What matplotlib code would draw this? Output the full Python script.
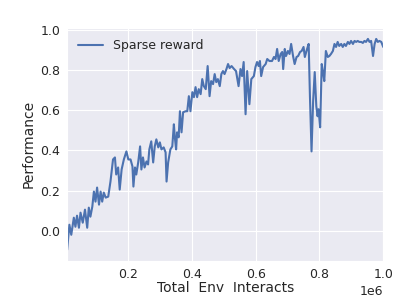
import matplotlib
matplotlib.use("Agg")
import matplotlib.pyplot as plt
import seaborn as sns
import numpy as np

# env interacts (in millions) and performance
steps = [
    0.008, 0.015, 0.021, 0.029, 0.034, 0.039, 0.045, 0.050, 0.057, 0.064,
    0.071, 0.076, 0.081, 0.087, 0.092, 0.097, 0.102, 0.108, 0.113, 0.118,
    0.123, 0.129, 0.137, 0.144, 0.152, 0.158, 0.162, 0.168, 0.173, 0.179,
    0.186, 0.194, 0.200, 0.207, 0.213, 0.216, 0.221, 0.225, 0.231, 0.237,
    0.241, 0.246, 0.251, 0.257, 0.262, 0.266, 0.272, 0.278, 0.283, 0.288,
    0.294, 0.299, 0.304, 0.311, 0.317, 0.320, 0.325, 0.332, 0.338, 0.343,
    0.346, 0.350, 0.353, 0.358, 0.362, 0.367, 0.372, 0.380, 0.385, 0.390,
    0.395, 0.401, 0.406, 0.411, 0.416, 0.421, 0.427, 0.432, 0.437, 0.443,
    0.449, 0.455, 0.460, 0.466, 0.471, 0.476, 0.481, 0.487, 0.492, 0.497,
    0.502, 0.508, 0.513, 0.518, 0.524, 0.532, 0.538, 0.546, 0.552, 0.557,
    0.562, 0.568, 0.573, 0.580, 0.586, 0.594, 0.599, 0.604, 0.609, 0.613,
    0.617, 0.623, 0.631, 0.636, 0.643, 0.651, 0.657, 0.662, 0.667, 0.672,
    0.678, 0.683, 0.686, 0.691, 0.695, 0.701, 0.706, 0.711, 0.717, 0.722,
    0.728, 0.733, 0.739, 0.744, 0.750, 0.754, 0.761, 0.766, 0.770, 0.775,
    0.780, 0.785, 0.790, 0.794, 0.797, 0.802, 0.807, 0.811, 0.815, 0.820,
    0.826, 0.831, 0.836, 0.842, 0.847, 0.852, 0.857, 0.862, 0.868, 0.873,
    0.878, 0.883, 0.889, 0.894, 0.899, 0.905, 0.910, 0.915, 0.920, 0.925,
    0.931, 0.936, 0.941, 0.946, 0.952, 0.957, 0.962, 0.968, 0.973, 0.978,
    0.983, 0.988, 0.994, 1.000,
]
performance = [
    -0.095, 0.030, -0.020, 0.065, 0.020, 0.075, 0.015, 0.090, 0.040, 0.105,
    0.015, 0.115, 0.070, 0.120, 0.195, 0.145, 0.215, 0.130, 0.195, 0.145,
    0.190, 0.165, 0.170, 0.245, 0.355, 0.365, 0.280, 0.315, 0.205, 0.305,
    0.355, 0.395, 0.355, 0.355, 0.320, 0.220, 0.315, 0.280, 0.340, 0.420,
    0.305, 0.365, 0.315, 0.345, 0.330, 0.405, 0.445, 0.340, 0.420, 0.455,
    0.415, 0.440, 0.405, 0.415, 0.390, 0.245, 0.340, 0.405, 0.420, 0.530,
    0.465, 0.405, 0.490, 0.465, 0.595, 0.490, 0.590, 0.595, 0.595, 0.670,
    0.595, 0.690, 0.665, 0.715, 0.665, 0.705, 0.680, 0.755, 0.720, 0.705,
    0.820, 0.670, 0.745, 0.730, 0.780, 0.740, 0.755, 0.720, 0.780, 0.795,
    0.780, 0.805, 0.830, 0.810, 0.820, 0.805, 0.795, 0.720, 0.805, 0.770,
    0.840, 0.580, 0.795, 0.630, 0.755, 0.770, 0.815, 0.840, 0.820, 0.845,
    0.770, 0.815, 0.830, 0.855, 0.845, 0.845, 0.865, 0.855, 0.905, 0.845,
    0.880, 0.890, 0.805, 0.905, 0.870, 0.895, 0.880, 0.930, 0.870, 0.830,
    0.865, 0.870, 0.890, 0.895, 0.915, 0.865, 0.905, 0.930, 0.670, 0.395,
    0.645, 0.790, 0.620, 0.570, 0.605, 0.515, 0.830, 0.790, 0.745, 0.895,
    0.865, 0.870, 0.880, 0.895, 0.930, 0.915, 0.940, 0.920, 0.930, 0.915,
    0.930, 0.920, 0.940, 0.930, 0.945, 0.930, 0.945, 0.940, 0.945, 0.940,
    0.940, 0.935, 0.945, 0.940, 0.955, 0.940, 0.945, 0.870, 0.930, 0.955,
    0.940, 0.945, 0.940, 0.915,
]

sns.set_style("darkgrid")
plt.rcParams['font.family'] = ['DejaVu Sans']

x = np.array(steps) * 1e6
y = np.array(performance)

fig = plt.figure(figsize=(4.17, 3.03), dpi=100)
ax = fig.add_axes([0.161, 0.139, 0.758, 0.769])
ax.plot(x, y, color='#4C72B0', lw=1.5, label='Sparse reward')

ax.set_xlim(x[0], x[-1])
ax.set_ylim(-0.15, 1.01)
ax.set_yticks([0.0, 0.2, 0.4, 0.6, 0.8, 1.0])
ax.set_xticks([0.2e6, 0.4e6, 0.6e6, 0.8e6, 1.0e6])
ax.tick_params(labelsize=9, colors='.15', length=0, pad=5)
ax.xaxis.get_offset_text().set_fontsize(9)
ax.xaxis.get_offset_text().set_color('.15')

ax.set_xlabel('Total  Env  Interacts', fontsize=10, color='.15', labelpad=0)
ax.set_ylabel('Performance', fontsize=10, color='.15', labelpad=3)
ax.legend(loc='upper left', fontsize=9, frameon=False)

fig.savefig('out.png', dpi=100)
